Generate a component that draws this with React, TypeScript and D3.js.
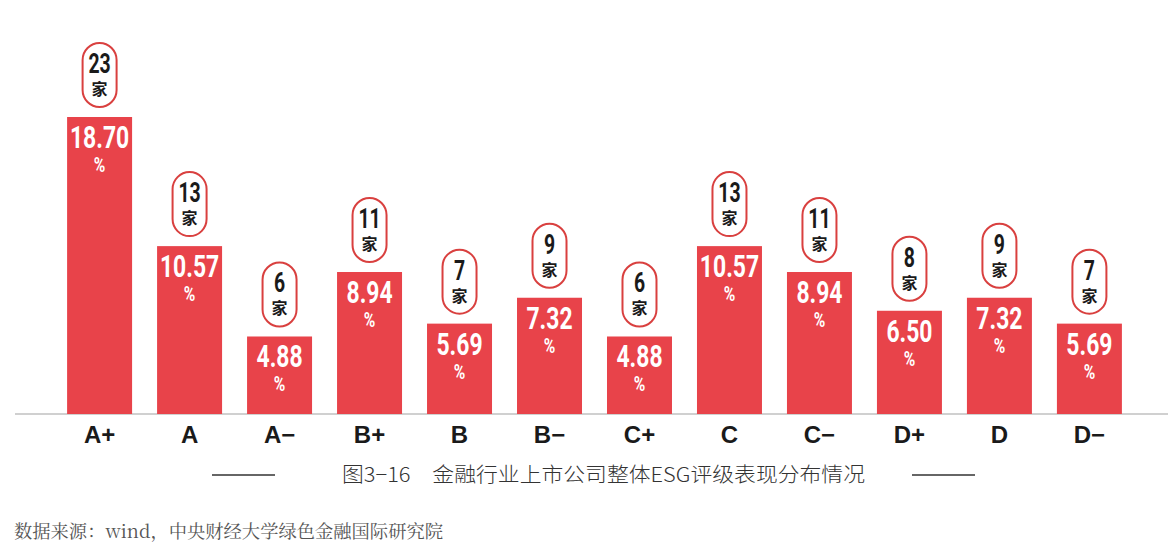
import React from "react";
import * as d3 from "d3";

const categories = ["A+", "A", "A−", "B+", "B", "B−", "C+", "C", "C−", "D+", "D", "D−"];
const percents = [18.7, 10.57, 4.88, 8.94, 5.69, 7.32, 4.88, 10.57, 8.94, 6.5, 7.32, 5.69];
const counts = [23, 13, 6, 11, 7, 9, 6, 13, 11, 8, 9, 7];
const title = "图3−16　金融行业上市公司整体ESG评级表现分布情况";
const source = "数据来源：wind，中央财经大学绿色金融国际研究院";

const W = 1168;
const H = 560;
const baseY = 414;
const RED = "#e8434a";

export default function App() {
  const x = d3
    .scaleBand<string>()
    .domain(categories)
    .range([54.5, 1134.5])
    .paddingInner(25 / 90)
    .paddingOuter(0.14);
  const y = d3.scaleLinear().domain([0, 18.7]).range([baseY, 117]);
  const bw = x.bandwidth();
  const condensed = "Roboto, 'Liberation Sans', sans-serif";

  return (
    <svg width={W} height={H} style={{ position: "absolute", left: 0, top: 0, background: "#fff" }}>
      <line x1={15} x2={W} y1={baseY} y2={baseY} stroke="#d0d0d0" strokeWidth={2} />
      {categories.map((c, i) => {
        const cx = (x(c) as number) + bw / 2;
        const top = y(percents[i]);
        const pillH = 64;
        const pillW = 34;
        const pillTop = top - 10 - pillH;
        return (
          <g key={c}>
            <rect x={x(c)} y={top} width={bw} height={baseY - top} fill={RED} />
            <g transform={`translate(${cx},${top + 31}) scale(0.74,1)`}>
              <text
                textAnchor="middle"
                fontFamily={condensed}
                fontWeight={700}
                fontSize={31}
                fill="#fff"
              >
                {percents[i].toFixed(2)}
              </text>
            </g>
            <g transform={`translate(${cx},${top + 55}) scale(0.78,1)`}>
              <text textAnchor="middle" fontFamily={condensed} fontWeight={700} fontSize={20} fill="#fff">
                %
              </text>
            </g>
            <rect
              x={cx - pillW / 2}
              y={pillTop}
              width={pillW}
              height={pillH}
              rx={pillW / 2}
              ry={pillW / 2}
              fill="#fff"
              stroke="#d9403f"
              strokeWidth={2}
            />
            <g transform={`translate(${cx},${pillTop + 30}) scale(0.72,1)`}>
              <text textAnchor="middle" fontFamily={condensed} fontWeight={700} fontSize={27} fill="#1a1a1a">
                {counts[i]}
              </text>
            </g>
            <text
              x={cx}
              y={pillTop + 52}
              textAnchor="middle"
              fontFamily="'Noto Sans CJK SC', sans-serif"
              fontWeight={700}
              fontSize={16}
              fill="#1a1a1a"
            >
              家
            </text>
            <text
              x={cx}
              y={443}
              textAnchor="middle"
              fontFamily="'Liberation Sans', Arial, sans-serif"
              fontWeight={700}
              fontSize={24}
              fill="#1a1a1a"
            >
              {c}
            </text>
          </g>
        );
      })}
      <line x1={212} x2={275} y1={475} y2={475} stroke="#333" strokeWidth={1.3} />
      <line x1={912} x2={975} y1={475} y2={475} stroke="#333" strokeWidth={1.3} />
      <text
        x={342}
        y={482}
        fontFamily="'Noto Sans CJK SC', sans-serif"
        fontWeight={300}
        fontSize={20}
        fill="#333"
        textLength={523}
        lengthAdjust="spacingAndGlyphs"
      >
        {title}
      </text>
      <text
        x={14}
        y={538}
        fontFamily="'Noto Serif CJK SC', 'Noto Sans CJK SC', serif"
        fontSize={18}
        fill="#555"
        textLength={429}
        lengthAdjust="spacingAndGlyphs"
      >
        {source}
      </text>
    </svg>
  );
}
